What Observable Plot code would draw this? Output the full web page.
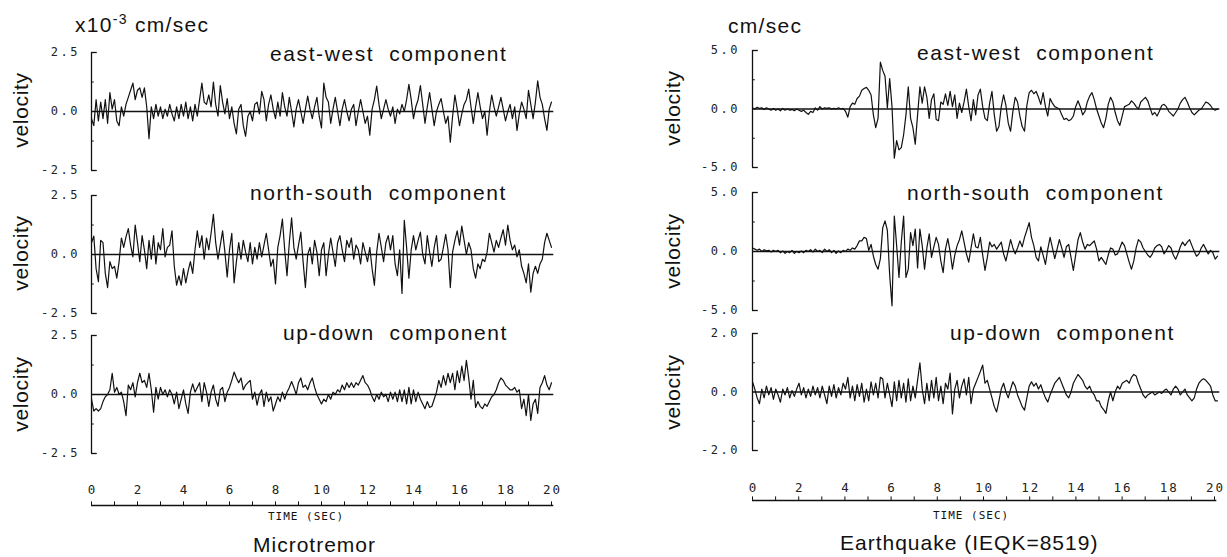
<!DOCTYPE html>
<html><head><meta charset="utf-8">
<script src="https://cdn.jsdelivr.net/npm/d3@7"></script>
<script src="https://cdn.jsdelivr.net/npm/@observablehq/plot@0.6"></script>
<style>
body{margin:0;background:#fff;}
#root{position:relative;width:1227px;height:557px;overflow:hidden;background:#fff;}
.pw{position:absolute;}
.pw svg{background:transparent;overflow:visible;}
.pw text{letter-spacing:2.5px;}
.pw.xa text{letter-spacing:2px;}
#overlay{position:absolute;left:0;top:0;pointer-events:none;}
</style>
</head><body><div id="root"></div>
<script>
// ---- data (velocity samples every 0.1 s, 0..20 s) ----
const DT = 0.1;
const microEW = [-0.3,-0.6,0.5,-0.4,0.4,-0.3,0.5,-0.5,0.8,0.1,
0.5,-0.4,-0.6,0.2,-0.2,0.3,0.6,0.9,1.2,0.5,
0.9,1.0,0.6,1.0,0.2,-1.15,0.2,-0.3,0.3,-0.2,
0.2,-0.3,0.1,-0.2,0.3,-0.1,-0.4,0.2,-0.3,0.3,
-0.2,0.4,-0.3,0.2,-0.4,0.3,-0.2,0.5,1.2,0.4,
0.3,0.7,0.2,1.25,0.3,-0.2,1.1,0.4,-0.1,0.55,
-0.3,0.2,-0.5,-0.95,0.1,0.3,-0.6,-1.05,-0.2,0.0,
-0.4,0.3,0.4,-0.1,0.85,0.5,-0.4,0.3,0.7,0.1,
-0.3,0.4,-0.2,0.8,0.2,-0.2,0.6,0.0,-0.65,0.1,
0.5,0.0,-0.5,0.1,0.65,0.1,-0.3,0.2,0.6,-0.2,
-0.7,1.2,0.6,0.4,-0.5,0.1,0.6,0.0,-0.6,0.1,
0.5,0.0,-0.4,0.1,0.3,-0.6,0.0,0.5,0.0,-0.5,
-0.2,-1.0,0.1,0.5,1.08,0.3,-0.3,0.1,0.5,0.1,
-0.2,0.2,-0.5,0.1,-0.1,0.3,0.0,0.5,1.15,0.5,
-0.3,0.2,0.5,1.1,0.3,-0.5,0.2,0.8,0.1,-0.6,
0.0,0.3,0.55,0.0,-0.5,-0.2,-1.3,-0.2,0.7,0.1,
-0.6,-0.1,0.3,0.5,0.95,0.2,-0.5,0.2,0.8,0.2,
-0.3,0.0,-1.0,0.0,0.7,0.2,-0.2,0.2,0.6,0.1,
-0.4,0.0,0.3,-0.3,0.2,-0.8,-0.1,0.4,0.1,-0.3,
0.9,0.3,-0.3,0.4,1.3,0.6,0.3,-0.3,-0.8,0.1,
0.4];
const microNS = [0.5,0.78,-0.6,-1.15,0.6,0.5,-0.8,-1.4,-0.3,-0.6,
-0.5,-1.0,-0.3,0.7,0.3,0.75,1.1,0.4,-0.1,1.25,
0.5,-0.3,0.8,0.2,-0.6,0.6,-0.2,0.8,-0.4,0.5,
0.2,1.1,-0.1,0.3,0.4,1.0,-0.5,-1.3,-0.9,-1.3,
-0.6,-1.2,-0.7,-0.3,-0.8,0.2,1.0,0.3,0.8,-0.2,
0.7,0.2,0.9,1.7,0.5,-0.2,0.4,1.0,0.1,-0.95,
0.2,0.9,-1.2,-0.3,0.5,-0.2,0.6,0.1,-0.3,0.5,
-0.4,0.3,-0.2,0.5,-0.1,0.4,0.9,0.2,-0.5,-0.2,
-1.25,0.3,0.8,1.5,0.2,-0.9,0.5,1.55,0.3,-0.2,
0.4,0.95,-0.3,-1.4,0.0,0.3,-0.4,0.6,0.1,-0.9,
0.2,0.5,-0.9,0.0,0.7,0.1,-0.5,0.5,0.8,0.2,
-0.3,0.6,0.3,0.7,-0.2,0.4,0.2,-0.4,0.5,0.1,
-0.3,0.3,-0.6,-1.3,0.1,0.9,0.3,-0.3,0.5,0.8,
0.2,0.8,-0.4,-0.9,0.2,-1.65,1.45,0.3,-1.0,0.2,
0.8,0.2,0.6,0.95,0.0,-0.4,0.8,0.1,-0.5,0.3,
0.8,-0.3,-0.2,0.3,0.85,0.2,-1.4,0.1,0.6,1.0,
0.4,1.2,0.6,0.0,0.5,0.2,-0.6,-1.0,-0.4,-0.6,
-0.2,-0.3,0.1,0.9,0.5,0.1,0.6,0.3,0.7,1.05,
0.4,1.25,0.6,0.2,0.4,-0.1,0.2,-0.5,-0.8,-1.2,
-0.4,-1.6,-0.8,-0.5,-0.8,-0.4,-0.2,0.5,0.9,0.6,
0.3];
const microUD = [-0.2,-0.7,-0.6,-0.7,-0.6,-0.3,-0.1,0.0,0.2,0.9,
0.1,0.3,0.0,0.1,-0.3,-0.9,0.4,0.2,0.5,-0.1,
0.5,0.9,0.5,0.6,0.3,0.9,0.2,-0.75,0.3,-0.2,
0.3,0.0,0.2,-0.1,0.2,0.0,-0.4,0.1,-0.6,-0.2,
0.2,-0.4,-0.8,0.1,0.45,0.1,0.3,0.5,-0.3,0.5,
0.1,-0.5,0.1,0.4,-0.2,-0.5,0.2,0.3,-0.3,0.1,
0.3,0.6,0.95,0.7,0.5,0.7,0.2,0.4,0.5,0.6,
-0.2,0.1,-0.45,0.0,0.2,-0.5,0.1,-0.3,-0.1,-0.7,
-0.4,-0.1,-0.3,0.1,-0.2,0.1,0.3,0.55,0.3,0.0,
0.5,0.7,0.3,0.4,0.2,0.5,0.7,0.3,0.0,-0.2,
-0.4,-0.2,-0.3,0.0,-0.2,0.1,0.0,0.2,0.1,0.4,
0.2,0.5,0.3,0.5,0.3,0.5,0.4,0.6,0.8,0.5,
0.4,0.2,-0.1,-0.3,0.0,-0.2,0.1,-0.1,0.0,-0.3,
0.1,-0.2,0.1,-0.3,0.2,-0.3,0.2,-0.4,0.3,-0.4,
0.2,-0.3,0.1,-0.2,-0.4,-0.6,-0.3,-0.55,-0.5,-0.2,
0.1,0.6,0.3,0.8,0.4,0.9,0.5,0.9,0.2,1.0,
0.5,1.2,0.6,1.45,0.7,-0.2,0.6,-0.55,-0.3,-0.5,
-0.6,-0.4,-0.5,-0.3,-0.1,0.0,0.2,0.5,0.7,0.6,
0.4,0.3,0.2,0.2,0.3,0.1,0.2,-0.6,-0.2,-0.9,
0.0,-1.1,-0.4,-0.2,-0.8,0.3,0.5,0.8,0.4,0.2,
0.5];
const quakeEW = [0.1,0.0,0.15,0.05,0.1,-0.05,0.1,0.0,-0.1,0.05,
-0.1,0.0,-0.15,0.05,-0.1,0.0,-0.1,-0.05,-0.15,0.0,
-0.1,-0.2,-0.1,-0.3,-0.45,-0.2,-0.3,0.1,-0.1,0.2,
0.0,0.1,0.05,0.1,0.0,0.05,0.0,0.1,0.0,0.05,
-0.2,-0.7,0.2,0.5,0.4,0.9,1.1,1.6,1.75,1.85,
1.6,1.2,-0.5,-1.6,-0.8,4.0,3.3,2.8,0.1,2.6,
0.2,-4.2,-2.7,-3.5,-3.3,-2.2,-0.5,1.9,-0.8,-1.6,
-3.0,-0.5,1.9,0.5,1.9,1.0,-0.8,0.8,1.3,-0.9,
-1.0,0.6,0.4,1.3,0.3,1.5,0.2,1.2,-0.8,0.5,
-0.3,0.6,1.7,0.2,-1.0,0.8,-0.5,1.2,1.7,0.2,
-0.8,-1.0,0.5,1.5,-0.5,-1.9,-1.5,0.2,1.2,0.3,
-1.2,-1.9,-0.2,1.0,0.6,-0.6,-1.5,-1.9,0.3,1.4,
1.6,1.3,1.5,1.0,0.4,1.4,0.2,-0.6,0.9,0.5,
0.2,0.1,0.0,-0.5,-0.9,-0.8,-1.0,-0.9,-0.6,0.2,
0.7,0.2,-0.5,-0.2,0.6,1.1,1.4,0.8,0.0,-0.6,
-1.2,-1.6,-0.8,0.4,1.0,0.6,-0.3,-1.0,-1.4,-0.6,
0.2,0.3,0.4,0.7,0.5,0.2,0.0,0.6,0.8,1.0,
0.7,0.1,-0.5,-0.3,-0.6,-0.2,0.3,0.4,0.2,-0.2,
-0.4,-0.6,-0.3,0.0,0.5,0.8,1.0,0.6,0.1,-0.3,
-0.5,-0.3,-0.1,0.0,0.3,0.6,0.5,0.3,0.0,-0.1,
0.0];
const quakeNS = [0.3,0.2,0.1,0.2,0.0,0.15,0.05,0.1,-0.05,0.1,
0.0,0.1,-0.1,0.05,-0.15,0.0,-0.1,0.1,-0.15,0.0,
-0.1,0.05,-0.1,0.1,0.0,0.15,-0.05,0.2,0.0,0.1,
-0.1,0.2,0.0,0.15,-0.1,0.1,-0.15,0.05,-0.1,0.1,
0.0,0.2,0.1,0.3,0.2,0.5,0.9,0.9,1.2,1.1,
0.1,0.6,-0.4,-1.1,-1.5,-0.6,2.0,2.6,1.8,-2.0,
-4.6,3.0,0.5,-2.2,0.8,3.0,-2.2,-1.5,1.6,0.5,
1.9,-1.4,1.9,0.5,-1.5,0.3,1.5,-0.5,0.4,1.2,
0.6,-0.8,-1.8,0.2,1.1,0.0,-1.5,-0.3,0.5,1.0,
1.75,0.8,-0.2,-0.9,0.3,1.5,0.4,0.3,1.2,-0.3,
-1.6,-0.5,0.8,0.4,0.6,0.2,0.5,0.8,-0.2,-0.8,
0.1,1.0,0.3,-0.2,0.3,0.9,0.4,1.2,1.8,2.45,
1.2,0.5,-0.5,-0.8,0.4,-0.3,-1.1,0.2,1.2,0.3,
-0.6,0.2,1.0,0.3,-0.5,0.4,0.6,-0.5,-1.6,-0.3,
1.0,1.6,0.8,0.2,0.6,0.5,0.7,0.9,0.2,-0.8,
-0.5,-0.8,-1.1,-0.3,0.3,0.2,-0.3,-0.2,0.3,0.8,
0.5,-0.2,-0.9,-1.5,-0.8,0.3,1.0,0.8,0.3,0.0,
-0.3,-0.5,-0.2,0.3,0.5,0.6,0.4,-0.2,0.1,0.5,
0.3,-0.3,-0.65,-0.2,0.4,0.8,0.5,0.8,1.0,0.5,
0.0,-0.4,-0.2,0.3,0.6,0.2,-0.2,0.1,-0.1,-0.65,
-0.4];
const quakeUD = [0.35,0.1,-0.2,-0.4,0.1,-0.2,0.2,-0.1,0.15,-0.25,
0.1,-0.1,-0.35,0.1,-0.1,0.15,-0.2,0.05,-0.15,0.1,
0.3,-0.1,0.15,-0.2,0.1,-0.15,0.2,-0.1,0.15,-0.2,
0.2,-0.1,-0.4,0.2,-0.15,0.25,-0.2,0.15,-0.1,0.3,
0.1,0.5,-0.2,0.2,-0.3,0.25,-0.15,0.3,-0.35,0.1,
-0.3,0.35,-0.1,0.3,-0.2,0.5,0.45,-0.2,0.3,-0.1,
-0.5,0.35,-0.3,0.4,-0.2,0.3,-0.35,0.45,-0.3,0.2,
-0.2,0.4,1.0,0.1,-0.4,0.3,-0.3,0.4,-0.2,0.5,
-0.3,0.2,-0.4,0.3,0.1,0.65,-0.75,0.1,0.4,-0.2,
0.2,0.45,-0.1,0.5,-0.4,0.1,0.3,0.5,0.7,0.92,
0.3,0.4,0.1,-0.2,-0.5,-0.68,-0.3,0.1,0.3,0.0,
-0.2,0.1,0.35,0.2,-0.1,-0.3,-0.5,-0.62,-0.2,0.2,
0.35,0.2,0.3,0.1,0.25,0.0,-0.2,-0.34,-0.1,0.1,
0.3,0.4,0.5,0.3,0.1,-0.1,-0.2,0.0,0.3,0.45,
0.6,0.5,0.4,0.2,0.1,0.2,0.0,-0.1,-0.3,-0.3,
-0.5,-0.6,-0.73,-0.3,0.0,-0.3,0.0,0.2,0.1,0.3,
0.35,0.4,0.3,0.5,0.6,0.55,0.3,0.1,-0.1,-0.2,
-0.1,-0.05,0.0,-0.1,-0.05,0.0,-0.05,0.05,0.1,0.0,
-0.1,0.1,0.2,0.1,-0.1,0.0,0.1,-0.1,-0.2,-0.3,
-0.2,0.1,0.3,0.4,0.45,0.4,0.3,0.2,-0.1,-0.3,
-0.3];

// ---- ticks / labels ----
const microYTicks = [2.5, 0, -2.5];
const microYLabels = ["2.5", "0.0", "-2.5"];
const microMinor = [1.25, -1.25];
const quakeYTicks = [5, 0, -5];
const quakeYLabels = ["5.0", "0.0", "-5.0"];
const quakeMinor = [2.5, -2.5];
const quakeUDTicks = [2, 0, -2];
const quakeUDLabels = ["2.0", "0.0", "-2.0"];
const quakeUDMinor = [1, -1];
const xTicksMinor = d3.range(0, 21, 1);
const xTickLabels = [0, 2, 4, 6, 8, 10, 12, 14, 16, 18, 20];
const componentTitles = ["east-west  component", "north-south  component", "up-down  component"];

const INK = "#111";
const MONO = "DejaVu Sans Mono, monospace";
const root = document.getElementById("root");

function place(node, left, top, cls) {
  const w = document.createElement("div");
  w.className = "pw" + (cls ? " " + cls : "");
  w.style.left = left + "px";
  w.style.top = top + "px";
  w.appendChild(node);
  root.appendChild(w);
}

function panel(values, ymax, ticks, labels, minor, cfg) {
  const data = values.map((v, i) => ({t: i * DT, v}));
  return Plot.plot({
    width: cfg.width, height: cfg.height,
    marginLeft: cfg.ml, marginRight: cfg.mr, marginTop: 10, marginBottom: 10,
    x: {domain: [0, 20], axis: null},
    y: {domain: [-ymax, ymax], axis: null},
    style: {background: "transparent", overflow: "visible"},
    marks: [
      Plot.ruleX([0], {y1: -ymax, y2: ymax, stroke: INK, strokeWidth: 1.3}),
      Plot.ruleY([-ymax, ymax], {x1: 0, x2: 0.25, stroke: INK, strokeWidth: 1.3}),
      Plot.ruleY(minor, {x1: 0, x2: 0.12, stroke: INK, strokeWidth: 1}),
      Plot.ruleY([0], {x1: 0, x2: 20.1, stroke: INK, strokeWidth: 1.7}),
      Plot.line(data, {x: "t", y: "v", stroke: INK, strokeWidth: 1.2, curve: "linear"}),
      Plot.text(ticks, {x: 0, y: d => d, text: (d, i) => labels[i], textAnchor: "end",
        dx: cfg.dx, fontFamily: MONO, fontSize: 12, fill: "#222"})
    ]
  });
}

function xAxis(cfg) {
  return Plot.plot({
    width: cfg.width, height: 40,
    marginLeft: cfg.ml, marginRight: cfg.mr, marginTop: 0, marginBottom: 10,
    x: {domain: [0, 20], axis: null},
    y: {domain: [0, 1], axis: null},
    style: {background: "transparent", overflow: "visible"},
    marks: [
      Plot.ruleY([0], {x1: 0, x2: 20.1, stroke: INK, strokeWidth: 1.3}),
      Plot.ruleX(xTicksMinor, {y1: 0, y2: 0.12, stroke: INK, strokeWidth: 1}),
      Plot.text(xTickLabels, {x: d => d, y: cfg.ly, text: d => String(d), dx: 1,
        fontFamily: MONO, fontSize: 12.5, fill: "#222"})
    ]
  });
}

const L = {width: 563, ml: 91, mr: 12, dx: -11.5};
const R = {width: 587, ml: 112, mr: 10, dx: -12.5};

place(panel(microEW, 2.5, microYTicks, microYLabels, microMinor, {...L, height: 138}), 0, 42);
place(panel(microNS, 2.5, microYTicks, microYLabels, microMinor, {...L, height: 138}), 0, 185);
place(panel(microUD, 2.5, microYTicks, microYLabels, microMinor, {...L, height: 138}), 0, 325);
place(xAxis({...L, ly: 0.53}), 0, 475, "xa");

place(panel(quakeEW, 5, quakeYTicks, quakeYLabels, quakeMinor, {...R, height: 137}), 640, 40);
place(panel(quakeNS, 5, quakeYTicks, quakeYLabels, quakeMinor, {...R, height: 138}), 640, 182);
place(panel(quakeUD, 2, quakeUDTicks, quakeUDLabels, quakeUDMinor, {...R, height: 137}), 640, 323);
place(xAxis({...R, mr: 10, width: 584, ly: 0.43}), 640, 470, "xa");

// ---- text overlay ----
const svg = d3.select(root).append("svg").attr("id", "overlay")
  .attr("width", 1227).attr("height", 557)
  .style("font-family", "Liberation Sans, Arial, sans-serif").style("fill", INK);

function txt(x, y, s, opts = {}) {
  const t = svg.append("text").attr("x", x).attr("y", y)
    .attr("font-size", opts.size || 21)
    .style("letter-spacing", (opts.ls ?? 1.5) + "px")
    .style("white-space", "pre")
    .text(s);
  if (opts.family) t.style("font-family", opts.family);
  if (opts.anchor) t.attr("text-anchor", opts.anchor);
  return t;
}

// unit labels
const u = svg.append("text").attr("x", 75).attr("y", 32).attr("font-size", 21).style("letter-spacing", "1.3px");
u.append("tspan").text("x10");
u.append("tspan").attr("font-size", 14).attr("dy", -8).text("-3");
u.append("tspan").attr("dy", 8).text(" cm/sec");
txt(728, 33, "cm/sec", {ls: 1.3});

// component titles
const titleL = [[270, 61], [250, 200], [283, 340]];
const titleR = [[917, 60], [907, 200], [950, 340]];
componentTitles.forEach((s, i) => {
  txt(titleL[i][0], titleL[i][1], s, {ls: 1.6});
  txt(titleR[i][0], titleR[i][1], s, {ls: 1.6});
});

// velocity labels
const velL = [110, 253, 394], velR = [108, 251, 392];
velL.forEach(y => svg.append("text").attr("transform", `translate(28,${y}) rotate(-90)`)
  .attr("text-anchor", "middle").attr("font-size", 21).style("letter-spacing", "0.7px").text("velocity"));
velR.forEach(y => svg.append("text").attr("transform", `translate(680,${y}) rotate(-90)`)
  .attr("text-anchor", "middle").attr("font-size", 21).style("letter-spacing", "0.7px").text("velocity"));

// x axis titles and captions
txt(268, 520, "TIME (SEC)", {size: 11, ls: 1, family: MONO});
txt(933, 519, "TIME (SEC)", {size: 11, ls: 1, family: MONO});
txt(253, 552, "Microtremor", {ls: 1});
txt(840, 550, "Earthquake (IEQK=8519)", {ls: 1});
</script>
</body></html>
